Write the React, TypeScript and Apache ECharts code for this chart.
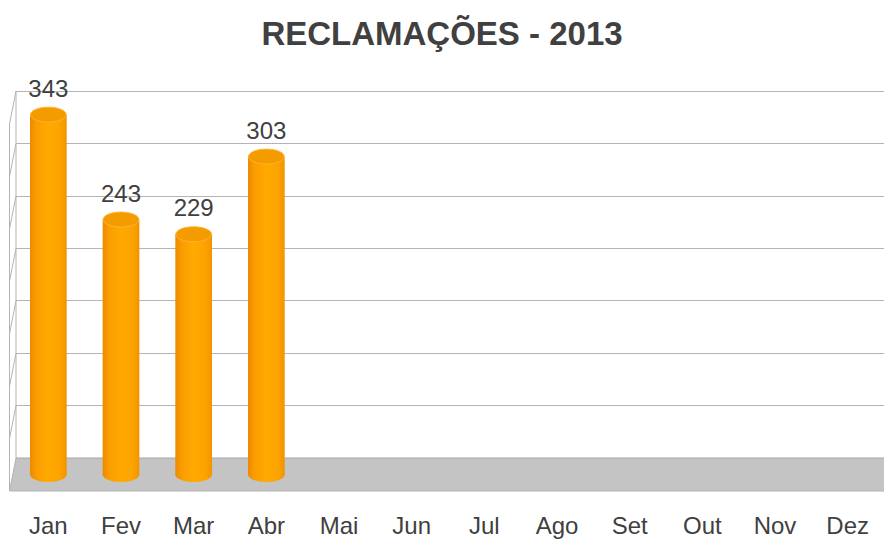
import React, { useEffect, useRef } from "react";
import * as echarts from "echarts";

const months = ["Jan", "Fev", "Mar", "Abr", "Mai", "Jun", "Jul", "Ago", "Set", "Out", "Nov", "Dez"];
const complaints = [343, 243, 229, 303];
const axisMax = 350;
const axisStep = 50;
const titleText = "RECLAMAÇÕES - 2013";

const FONT = "'Liberation Sans', Arial, sans-serif";

export default function App() {
  const ref = useRef<HTMLDivElement>(null);
  useEffect(() => {
    if (!ref.current) return;
    document.body.style.margin = "0";
    const chart = echarts.init(ref.current, undefined, { renderer: "svg" });
    const depthX = -6.5;
    const depthY = 33;

    const wallRender = (params: any, api: any) => {
      const [x0, y0] = api.coord([0, 0]);
      const [x1] = api.coord([1, 0]);
      const children: any[] = [];
      children.push({
        type: "polygon",
        shape: { points: [[x0, y0], [x1, y0], [x1, y0 + depthY], [x0 + depthX, y0 + depthY]] },
        style: { fill: "#c4c4c4", stroke: "none" },
      });
      children.push({
        type: "line",
        shape: { x1: x0, y1: y0, x2: x1, y2: y0 },
        style: { stroke: "#a6a6a6", lineWidth: 1 },
      });
      children.push({
        type: "line",
        shape: { x1: x0 + depthX, y1: y0 + depthY, x2: x1, y2: y0 + depthY },
        style: { stroke: "#b4b4b4", lineWidth: 1 },
      });
      const yTop = api.coord([0, axisMax])[1];
      for (let v = 0; v <= axisMax; v += axisStep) {
        const y = api.coord([0, v])[1];
        children.push({
          type: "line",
          shape: { x1: x0, y1: y, x2: x0 + depthX, y2: y + depthY },
          style: { stroke: "#b4b4b4", lineWidth: 1 },
        });
      }
      children.push({
        type: "line",
        shape: { x1: x0, y1: yTop, x2: x0, y2: y0 },
        style: { stroke: "#b4b4b4", lineWidth: 1 },
      });
      children.push({
        type: "line",
        shape: { x1: x0 + depthX, y1: yTop + depthY, x2: x0 + depthX, y2: y0 + depthY },
        style: { stroke: "#b4b4b4", lineWidth: 1 },
      });
      return { type: "group", children };
    };

    const barRender = (params: any, api: any) => {
      const idx = api.value(0);
      const val = api.value(1);
      const [cx, topY] = api.coord([idx, val]);
      const baseY = api.coord([idx, 0])[1];
      const w = api.size([1, 0])[0] * 0.505;
      const rx = w / 2;
      const ry = 7.5;
      const grad = new echarts.graphic.LinearGradient(0, 0, 1, 0, [
        { offset: 0, color: "#ec8a00" },
        { offset: 0.18, color: "#fb9d00" },
        { offset: 0.5, color: "#ffaa00" },
        { offset: 0.82, color: "#fda300" },
        { offset: 1, color: "#f09400" },
      ]);
      return {
        type: "group",
        children: [
          { type: "ellipse", shape: { cx, cy: baseY, rx, ry }, style: { fill: grad } },
          { type: "rect", shape: { x: cx - rx, y: topY, width: 2 * rx, height: baseY - topY }, style: { fill: grad } },
          {
            type: "ellipse",
            shape: { cx, cy: topY, rx: rx - 0.5, ry },
            style: { fill: "#f49b00", stroke: "#ffb330", lineWidth: 1 },
          },
          {
            type: "text",
            x: cx,
            y: topY - ry - 19,
            style: {
              text: String(val),
              fontSize: 24,
              fontFamily: FONT,
              fill: "#404040",
              align: "center",
              verticalAlign: "middle",
            },
          },
        ],
      };
    };

    chart.setOption({
      animation: false,
      title: {
        text: titleText,
        left: "center",
        top: 17,
        padding: 0,
        textStyle: { fontSize: 33, fontWeight: "bold", color: "#404040", fontFamily: FONT },
      },
      grid: [
        { left: 16, right: 0, top: 91, bottom: 83 },
        { left: 12, width: 883, top: 107.3, bottom: 66.5 },
      ],
      xAxis: [
        { type: "value", gridIndex: 0, min: 0, max: 1, show: false },
        {
          type: "category",
          gridIndex: 1,
          data: months,
          axisLine: { show: false },
          axisTick: { show: false },
          axisLabel: { fontSize: 24, color: "#404040", fontFamily: FONT, margin: 39, interval: 0 },
        },
      ],
      yAxis: [
        {
          type: "value",
          gridIndex: 0,
          min: 0,
          max: axisMax,
          interval: axisStep,
          axisLabel: { show: false },
          axisLine: { show: false },
          axisTick: { show: false },
          splitLine: { lineStyle: { color: "#b4b4b4", width: 1 } },
        },
        {
          type: "value",
          gridIndex: 1,
          min: 0,
          max: axisMax,
          interval: axisStep,
          show: false,
          splitLine: { show: false },
        },
      ],
      series: [
        {
          type: "custom",
          xAxisIndex: 0,
          yAxisIndex: 0,
          renderItem: wallRender,
          data: [[0, 0]],
          clip: false,
          silent: true,
          z: 1,
        },
        {
          type: "custom",
          xAxisIndex: 1,
          yAxisIndex: 1,
          renderItem: barRender,
          data: complaints.map((v, i) => [i, v]),
          clip: false,
          z: 5,
        },
      ],
    });
    return () => chart.dispose();
  }, []);
  return <div ref={ref} style={{ width: 884, height: 541 }} />;
}
